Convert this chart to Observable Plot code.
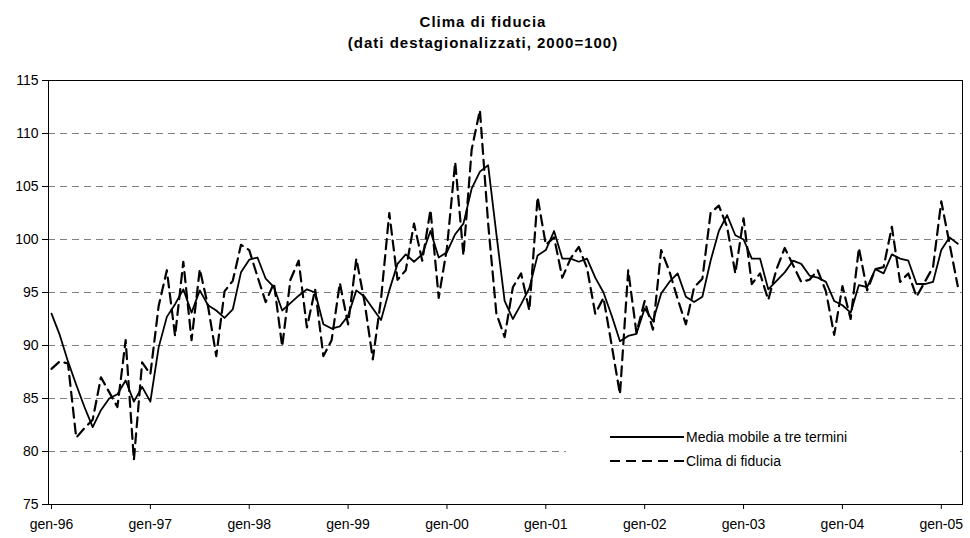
<!DOCTYPE html>
<html>
<head>
<meta charset="utf-8">
<script src="https://cdn.jsdelivr.net/npm/d3@7"></script>
<script src="https://cdn.jsdelivr.net/npm/@observablehq/plot@0.6"></script>
<style>
  html, body { margin: 0; padding: 0; background: #fff; }
  #wrap { position: relative; width: 970px; height: 538px; font-family: "Liberation Sans", Arial, sans-serif; color: #000; }
  #title { position: absolute; left: 0; top: 11px; width: 966px; text-align: center; font-weight: bold; font-size: 15px; line-height: 21px; letter-spacing: 1px; }
  #legend { position: absolute; left: 566px; top: 424px; width: 392px; height: 52px; background: #fff; font-size: 14px; }
  .item { position: absolute; left: 44px; height: 20px; display: flex; align-items: center; }
  .item svg { margin-right: 2px; }
</style>
</head>
<body>
<div id="wrap">
  <div id="chart"></div>
  <div id="title">Clima di fiducia<br>(dati destagionalizzati, 2000=100)</div>
  <div id="legend"></div>
</div>
<script>
// Monthly data, gen-96 ... mar-05
const clima = [
  87.8, 88.5, 88.3, 81.3, 82.2, 83.0, 87.0, 85.6, 84.2, 90.5, 79.2, 88.4,
  87.3, 93.7, 97.1, 90.9, 97.9, 90.5, 97.2, 93.7, 89.0, 95.1, 96.1, 99.5,
  99.0, 96.5, 94.1, 95.9, 89.9, 96.2, 98.0, 91.7, 95.3, 89.0, 90.5, 95.9,
  92.0, 98.2, 94.1, 88.7, 94.4, 102.5, 96.2, 97.1, 101.5, 98.0, 102.8, 94.5,
  99.2, 107.3, 98.5, 108.5, 112.2, 101.5, 93.0, 90.8, 95.5, 96.8, 93.3, 104.0,
  99.5, 100.2, 96.4, 98.2, 99.3, 97.3, 93.0, 94.5, 90.0, 85.4, 97.1, 91.2,
  94.2, 91.5, 99.0, 97.0, 94.4, 92.0, 95.5, 96.3, 102.5, 103.2, 101.2, 96.8,
  102.0, 95.8, 96.8, 94.3, 97.2, 99.2, 97.6, 96.0, 96.2, 97.1, 95.1, 91.0,
  95.6, 92.5, 99.2, 95.2, 97.2, 97.4, 101.2, 96.0, 96.8, 94.6, 96.0, 97.4,
  103.6, 99.6, 95.6
];
const media = [
  93.0, 91.0, 88.5, 86.3, 84.2, 82.3, 83.9, 85.0, 85.4, 86.7, 84.7, 86.1,
  84.7, 89.8, 92.7, 93.9, 95.3, 93.1, 95.2, 93.8, 93.3, 92.6, 93.4, 96.9,
  98.1, 98.3, 96.3, 95.5, 93.3, 94.0, 94.7, 95.3, 95.0, 92.0, 91.6, 91.8,
  92.8, 95.2, 94.6, 93.5, 92.4, 95.2, 97.7, 98.6, 97.9, 98.6, 100.8, 98.3,
  98.8, 100.5, 101.5, 104.8, 106.4, 107.0, 100.5, 94.2, 92.5, 93.9, 95.4, 98.5,
  99.0, 100.8, 98.2, 98.2, 97.9, 98.2, 96.4, 95.0, 92.8, 90.4, 90.9, 91.1,
  93.5, 92.3, 94.9, 96.0, 96.8, 94.6, 94.1, 94.6, 98.0, 100.8, 102.3, 100.4,
  100.0, 98.2, 98.2, 95.3, 96.1, 96.9, 98.0, 97.7, 96.6, 96.4, 96.0, 94.2,
  93.8, 93.1, 95.7, 95.5, 97.2, 96.8, 98.6, 98.2, 98.0, 95.8, 95.8, 96.0,
  99.0, 100.2, 99.6
];
const yearLabels = ["gen-96","gen-97","gen-98","gen-99","gen-00","gen-01","gen-02","gen-03","gen-04","gen-05"];
const yTicks = [75, 80, 85, 90, 95, 100, 105, 110, 115];
const gridValues = [80, 85, 90, 95, 100, 105, 110];
const seriesNames = ["Media mobile a tre termini", "Clima di fiducia"];

const rows = clima.map((v, i) => ({ i, clima: v, media: media[i] }));
const xTicks = yearLabels.map((_, k) => k * 12);

const chart = Plot.plot({
  width: 970,
  height: 538,
  marginLeft: 48,
  marginRight: 8,
  marginTop: 80,
  marginBottom: 34,
  style: { fontFamily: "Liberation Sans, Arial, sans-serif", fontSize: "14px", color: "#000", background: "#fff" },
  x: { domain: [0, 111], range: [51, 965.5] },
  y: { domain: [75, 115] },
  marks: [
    Plot.ruleY(gridValues, { stroke: "#808080", strokeWidth: 1, strokeDasharray: "7,5" }),
    Plot.line(rows, { x: "i", y: "clima", stroke: "#000", strokeWidth: 2.2, strokeDasharray: "10,6" }),
    Plot.line(rows, { x: "i", y: "media", stroke: "#000", strokeWidth: 1.8 }),
    Plot.frame({ stroke: "#000", strokeWidth: 1 }),
    Plot.axisY({ ticks: yTicks, tickSize: 6, tickPadding: 4, label: null, fontSize: 14 }),
    Plot.axisX({ ticks: xTicks, tickFormat: (d) => yearLabels[d / 12], tickSize: 5, tickPadding: 10, label: null, fontSize: 14 })
  ]
});
document.getElementById("chart").appendChild(chart);

// legend
const legend = document.getElementById("legend");
seriesNames.forEach((name, k) => {
  const item = document.createElement("div");
  item.className = "item";
  item.style.top = (k === 0 ? 3 : 27) + "px";
  const dash = k === 0 ? "" : ' stroke-dasharray="10,6"';
  item.innerHTML = `<svg width="74" height="10"><line x1="0" y1="5" x2="74" y2="5" stroke="#000" stroke-width="${k === 0 ? 1.8 : 2.2}"${dash}/></svg><span>${name}</span>`;
  legend.appendChild(item);
});
</script>
</body>
</html>
